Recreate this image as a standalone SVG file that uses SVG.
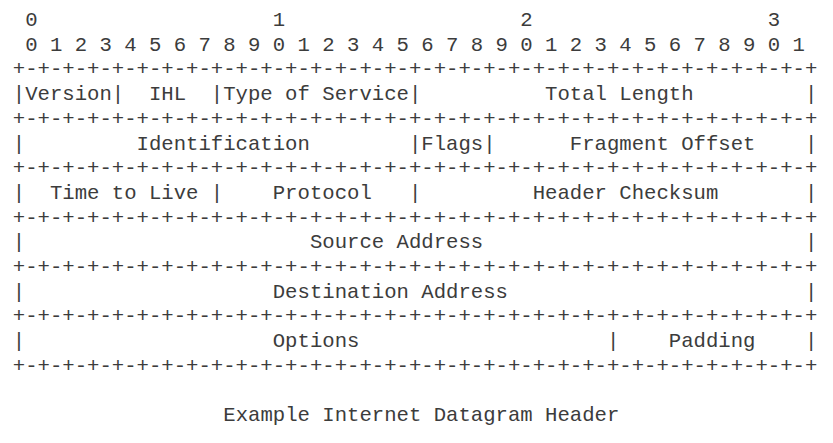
<svg xmlns="http://www.w3.org/2000/svg" width="833" height="443" viewBox="0 0 833 443">
<style>
text{font-family:"Liberation Mono","Courier New",monospace;font-size:20.63px;fill:#3c3c3c;white-space:pre}
</style>
<rect width="833" height="443" fill="#ffffff"/>
<g id="bit-ruler">
<text x="25.22" y="26">0                   1                   2                   3</text>
<text x="25.22" y="50.7">0 1 2 3 4 5 6 7 8 9 0 1 2 3 4 5 6 7 8 9 0 1 2 3 4 5 6 7 8 9 0 1</text>
</g>
<g id="header-rows">
<text x="12.84" y="75.4">+-+-+-+-+-+-+-+-+-+-+-+-+-+-+-+-+-+-+-+-+-+-+-+-+-+-+-+-+-+-+-+-+</text>
<text x="12.84" y="100.1">|Version|  IHL  |Type of Service|          Total Length         |</text>
<text x="12.84" y="124.8">+-+-+-+-+-+-+-+-+-+-+-+-+-+-+-+-+-+-+-+-+-+-+-+-+-+-+-+-+-+-+-+-+</text>
<text x="12.84" y="149.5">|         Identification        |Flags|      Fragment Offset    |</text>
<text x="12.84" y="174.2">+-+-+-+-+-+-+-+-+-+-+-+-+-+-+-+-+-+-+-+-+-+-+-+-+-+-+-+-+-+-+-+-+</text>
<text x="12.84" y="198.9">|  Time to Live |    Protocol   |         Header Checksum       |</text>
<text x="12.84" y="223.6">+-+-+-+-+-+-+-+-+-+-+-+-+-+-+-+-+-+-+-+-+-+-+-+-+-+-+-+-+-+-+-+-+</text>
<text x="12.84" y="248.3">|                       Source Address                          |</text>
<text x="12.84" y="273">+-+-+-+-+-+-+-+-+-+-+-+-+-+-+-+-+-+-+-+-+-+-+-+-+-+-+-+-+-+-+-+-+</text>
<text x="12.84" y="297.7">|                    Destination Address                        |</text>
<text x="12.84" y="322.4">+-+-+-+-+-+-+-+-+-+-+-+-+-+-+-+-+-+-+-+-+-+-+-+-+-+-+-+-+-+-+-+-+</text>
<text x="12.84" y="347.1">|                    Options                    |    Padding    |</text>
<text x="12.84" y="371.8">+-+-+-+-+-+-+-+-+-+-+-+-+-+-+-+-+-+-+-+-+-+-+-+-+-+-+-+-+-+-+-+-+</text>
</g>
<g id="caption">
<text x="223.3" y="421.2">Example Internet Datagram Header</text>
</g>
</svg>
